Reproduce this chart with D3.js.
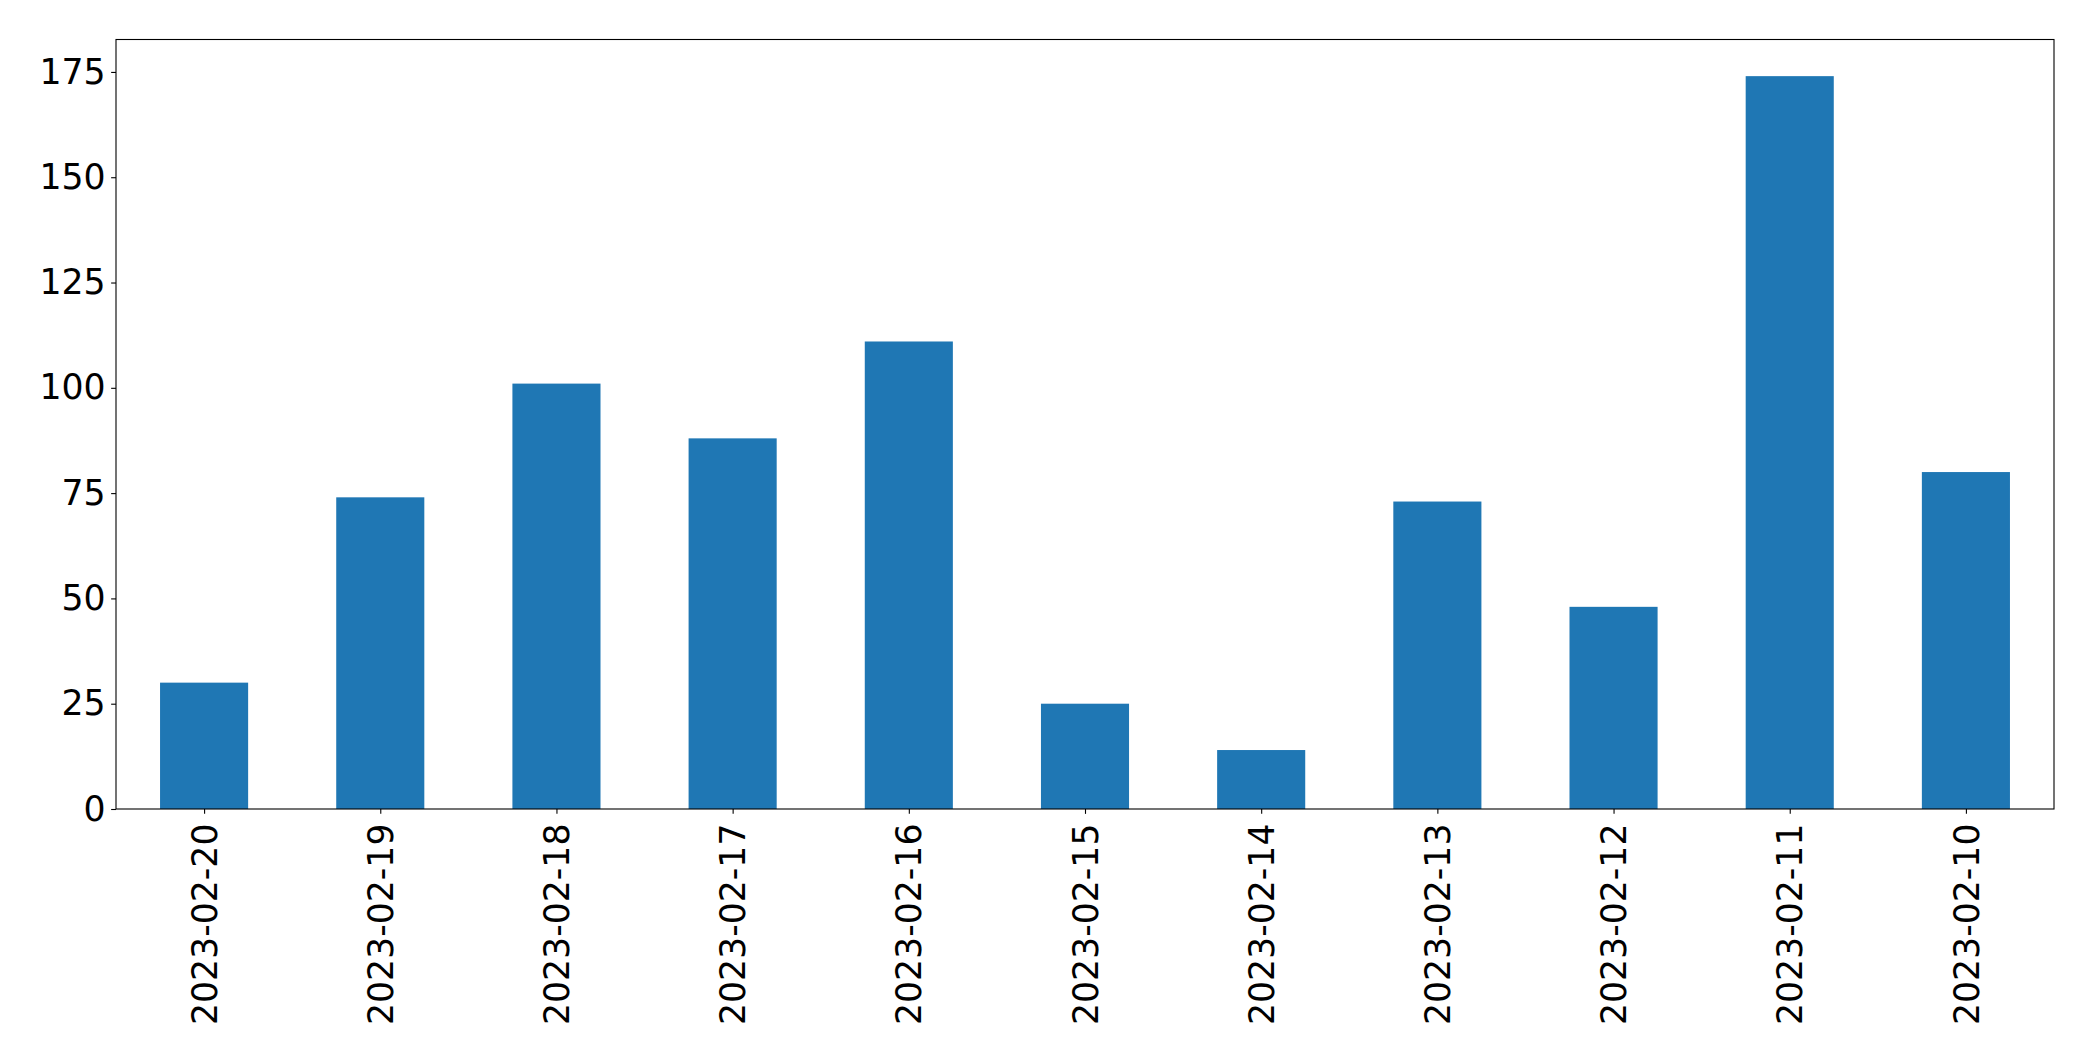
<!DOCTYPE html>
<html>
<head>
<meta charset="utf-8">
<script src="https://cdn.jsdelivr.net/npm/d3@7"></script>
<style>
  html, body { margin: 0; padding: 0; background: #fff; }
  svg { display: block; }
</style>
</head>
<body>
<svg id="chart" width="2093" height="1061"></svg>
<script>
const categories = ["2023-02-20","2023-02-19","2023-02-18","2023-02-17","2023-02-16","2023-02-15","2023-02-14","2023-02-13","2023-02-12","2023-02-11","2023-02-10"];
const values = [30, 74, 101, 88, 111, 25, 14, 73, 48, 174, 80];
const yTicks = [0, 25, 50, 75, 100, 125, 150, 175];

const W = 2093, H = 1061;
const margin = {left: 116, right: W - 2054, top: 39.5, bottom: H - 809};
const svg = d3.select("#chart");
const fontFamily = "'DejaVu Sans', sans-serif";
const fontSize = 34.7;

const x = d3.scaleLinear()
  .domain([-0.5, categories.length - 0.5])
  .range([margin.left, W - margin.right]);
const yMax = d3.max(values) * 1.05;
const y = d3.scaleLinear()
  .domain([0, yMax])
  .range([H - margin.bottom, margin.top]);

const barW = x(0.5) - x(0);

svg.append("g")
  .selectAll("rect")
  .data(values)
  .join("rect")
  .attr("x", (d, i) => x(i) - barW / 2)
  .attr("width", barW)
  .attr("y", d => y(d))
  .attr("height", d => y(0) - y(d))
  .attr("fill", "#1f77b4");

// Y axis
const yAxis = d3.axisLeft(y)
  .tickValues(yTicks)
  .tickSize(4.86)
  .tickPadding(5.5)
  .tickFormat(d3.format("d"));
const gy = svg.append("g")
  .attr("transform", `translate(${margin.left},0)`)
  .call(yAxis);
gy.select(".domain").remove();
gy.selectAll("line").attr("stroke", "#000").attr("stroke-width", 1.1);
gy.selectAll("text")
  .attr("fill", "#000")
  .style("font-family", fontFamily)
  .style("font-size", fontSize + "px");

// X axis
const xAxis = d3.axisBottom(x)
  .tickValues(d3.range(categories.length))
  .tickSize(4.86)
  .tickPadding(0)
  .tickFormat(i => categories[i]);
const gx = svg.append("g")
  .attr("transform", `translate(0,${H - margin.bottom})`)
  .call(xAxis);
gx.select(".domain").remove();
gx.selectAll("line").attr("stroke", "#000").attr("stroke-width", 1.1);
gx.selectAll("text")
  .attr("fill", "#000")
  .style("font-family", fontFamily)
  .style("font-size", fontSize + "px")
  .attr("text-anchor", "end")
  .attr("dy", "0.35em")
  .attr("x", 0)
  .attr("y", 0)
  .attr("transform", "translate(0,14.5) rotate(-90)");

// Frame
svg.append("rect")
  .attr("x", margin.left)
  .attr("y", margin.top)
  .attr("width", W - margin.left - margin.right)
  .attr("height", H - margin.top - margin.bottom)
  .attr("fill", "none")
  .attr("stroke", "#000")
  .attr("stroke-width", 1.1);
</script>
</body>
</html>
